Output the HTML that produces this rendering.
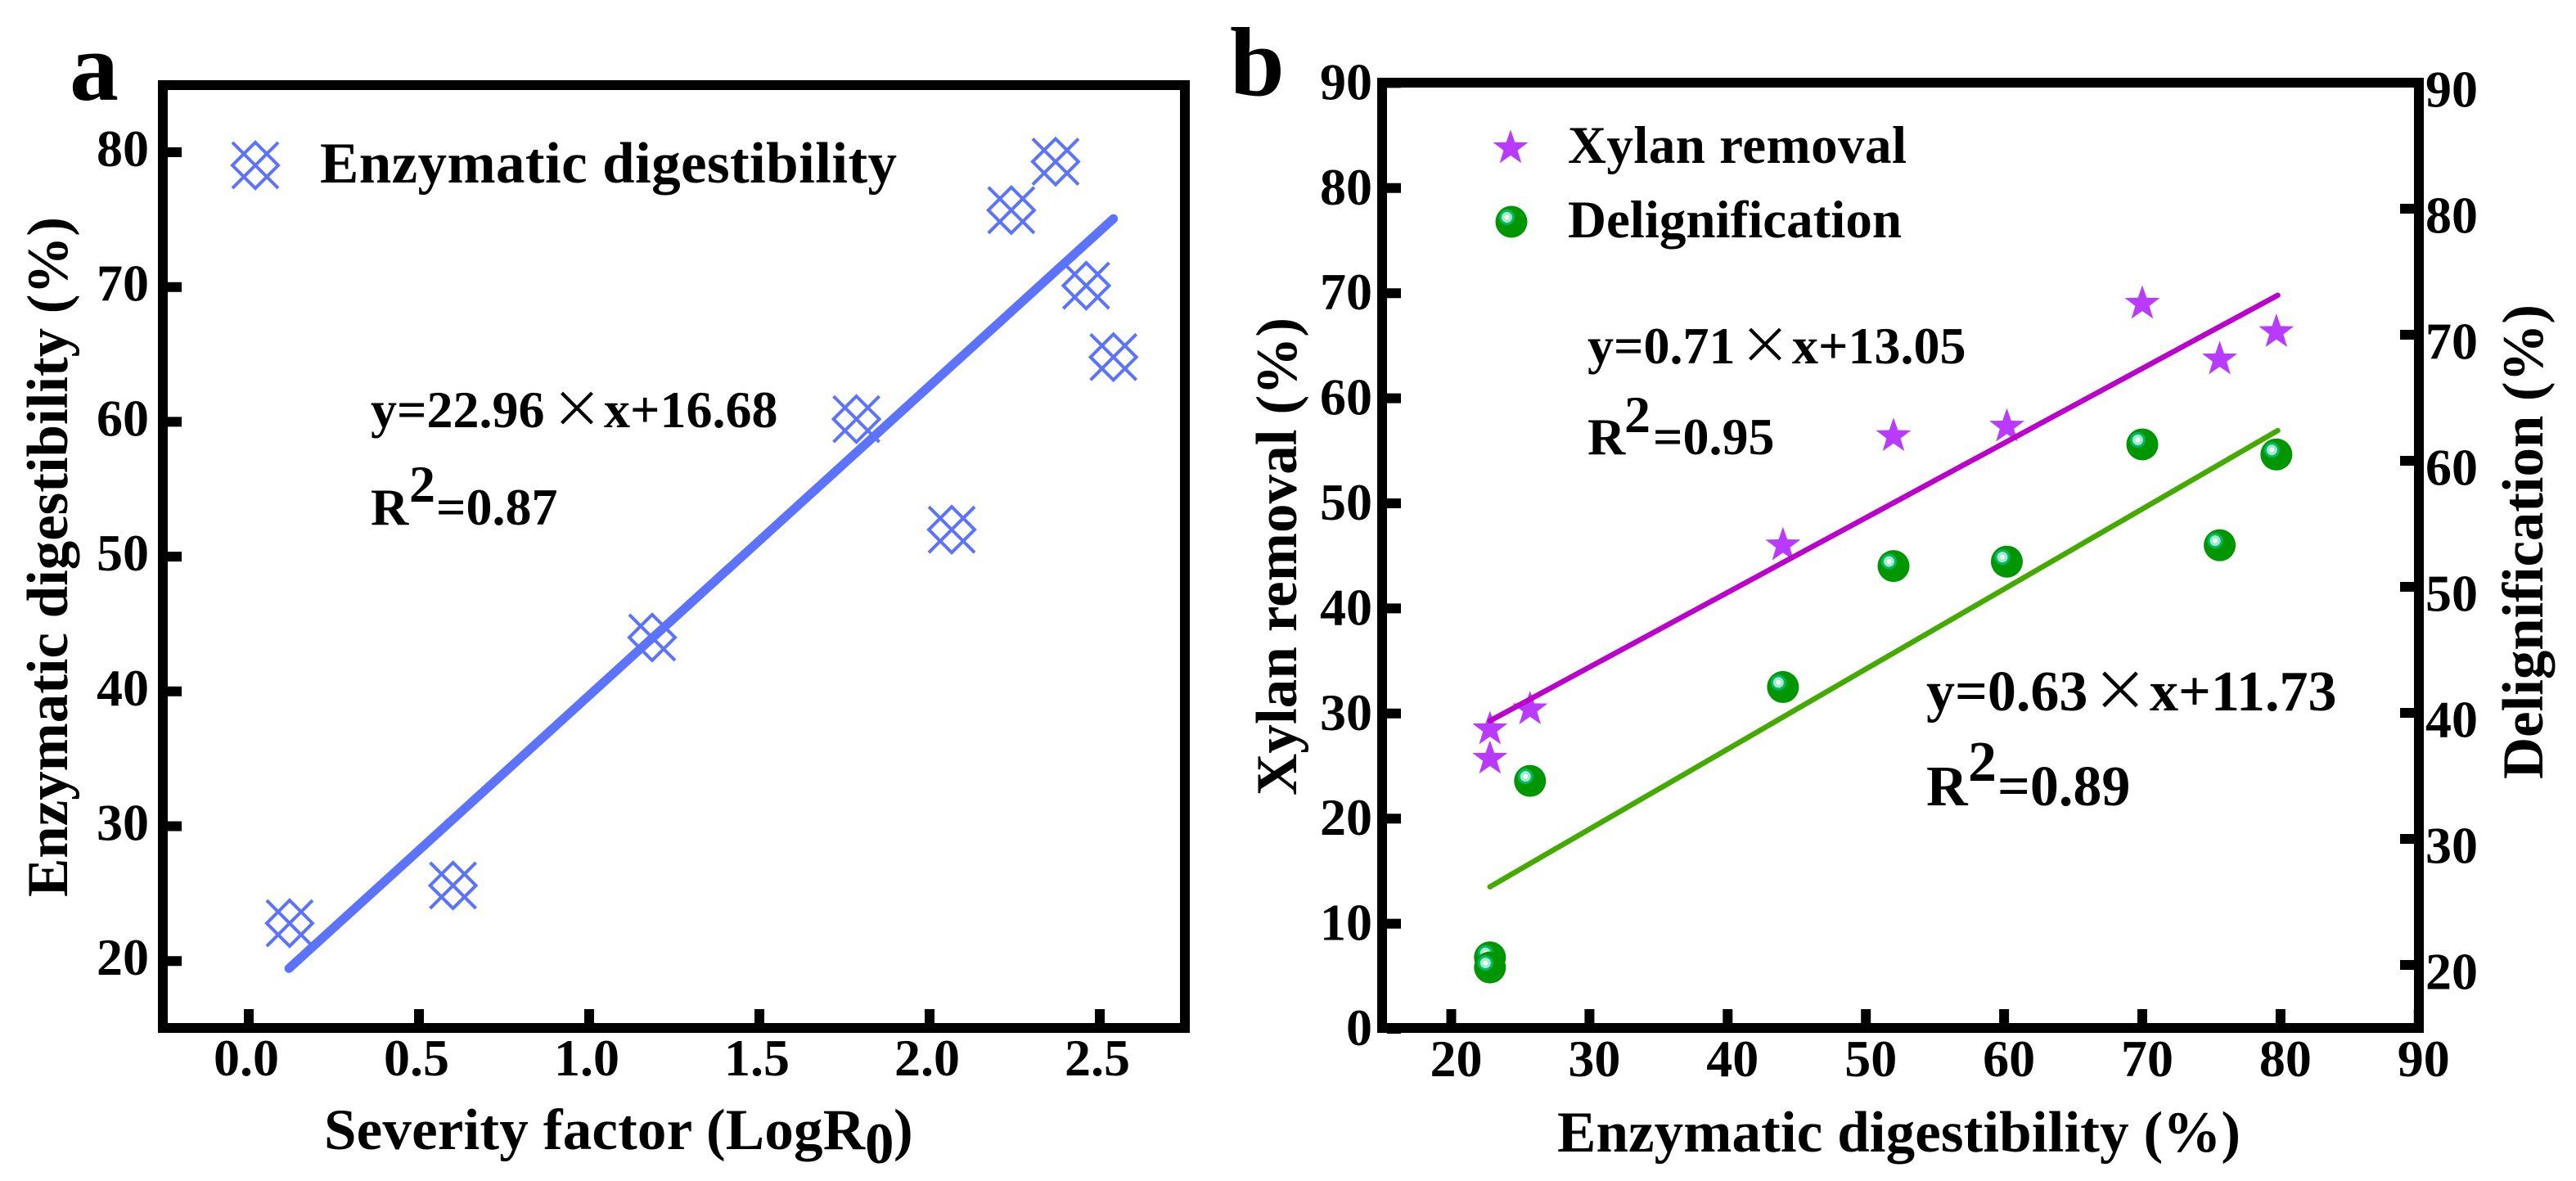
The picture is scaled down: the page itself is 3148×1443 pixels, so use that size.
<!DOCTYPE html>
<html lang="en">
<head>
<meta charset="utf-8">
<title>Enzymatic digestibility charts</title>
<style>
html,body{margin:0;padding:0;background:#fff;}
svg{display:block;}
text{font-family:"Liberation Serif","Noto Serif CJK SC",serif;font-weight:bold;fill:#000;}
.tick{font-size:64px;}
.title{font-size:71px;}
.legend-a{font-size:71px;}
.legend-b{font-size:65px;}
.eq{font-size:64px;}
.eq-large{font-size:70px;}
.times{font-family:"Noto Sans CJK SC","WenQuanYi Zen Hei",sans-serif;font-weight:normal;font-size:62px;}
.times-large{font-family:"Noto Sans CJK SC","WenQuanYi Zen Hei",sans-serif;font-weight:normal;font-size:68px;}
.panel{font-size:120px;}
</style>
</head>
<body>
<svg id="fig" xmlns="http://www.w3.org/2000/svg" width="3148" height="1443" viewBox="0 0 3148 1443">
  <rect width="3148" height="1443" fill="#fff"/>

  <text class="panel" x="85" y="122">a</text>
  <text class="panel" x="1503" y="116">b</text>

  <rect x="199" y="104" width="1249" height="1152" fill="none" stroke="#000" stroke-width="12"/>
  <rect x="1689" y="101" width="1267" height="1155" fill="none" stroke="#000" stroke-width="12"/>

  <g id="layer-a"></g>
  <g id="layer-b"></g>

  <!-- Panel a text -->
  <text class="title" x="396" y="1404" textLength="661" lengthAdjust="spacing">Severity factor (LogR</text>
  <text class="title" x="1057" y="1421">0</text>
  <text class="title" x="1092" y="1404">)</text>
  <text class="title" transform="translate(82 1096) rotate(-90)" textLength="831" lengthAdjust="spacing">Enzymatic digestibility (%)</text>
  <text class="legend-a" x="391" y="223" textLength="705" lengthAdjust="spacing">Enzymatic digestibility</text>

  <text class="eq" x="453" y="522">y=22.96</text>
  <text class="times" x="674" y="522">×</text>
  <text class="eq" x="738" y="522">x+16.68</text>
  <text class="eq" x="453" y="641">R</text>
  <text class="eq" x="500" y="613">2</text>
  <text class="eq" x="533" y="641">=0.87</text>

  <!-- Panel b text -->
  <text class="title" x="1903" y="1407" textLength="835" lengthAdjust="spacing">Enzymatic digestibility (%)</text>
  <text class="title" transform="translate(1584 972) rotate(-90)" textLength="584" lengthAdjust="spacing">Xylan removal (%)</text>
  <text class="title" transform="translate(3107 952) rotate(-90)" textLength="580" lengthAdjust="spacing">Delignification (%)</text>
  <text class="legend-b" x="1916" y="199" textLength="414" lengthAdjust="spacing">Xylan removal</text>
  <text class="legend-b" x="1916" y="290" textLength="408" lengthAdjust="spacing">Delignification</text>

  <text class="eq" x="1940" y="444">y=0.71</text>
  <text class="times" x="2126" y="444">×</text>
  <text class="eq" x="2190" y="444">x+13.05</text>
  <text class="eq" x="1940" y="555">R</text>
  <text class="eq" x="1985" y="528">2</text>
  <text class="eq" x="2020" y="555">=0.95</text>

  <text class="eq-large" x="2354" y="868">y=0.63</text>
  <text class="times-large" x="2557" y="868">×</text>
  <text class="eq-large" x="2627" y="868">x+11.73</text>
  <text class="eq-large" x="2354" y="984">R</text>
  <text class="eq-large" x="2405" y="954">2</text>
  <text class="eq-large" x="2441" y="984">=0.89</text>
</svg>

<script>
// Panel a data
const aTicksX = [0, 0.5, 1, 1.5, 2, 2.5];
const aTickLabelsX = ['0.0', '0.5', '1.0', '1.5', '2.0', '2.5'];
const aTicksY = [20, 30, 40, 50, 60, 70, 80];
const severity = [0.12, 0.6, 1.185, 1.785, 2.065, 2.24, 2.37, 2.46, 2.54];
const digestibility = [22.8, 25.6, 44, 60.2, 52, 75.7, 79.3, 70.1, 64.8];
const aFitX = [0.118, 2.54];
const aFitY = [19.45, 75.07];

// Panel b data
const bTicksX = [20, 30, 40, 50, 60, 70, 80, 90];
const bTicksLeft = [0, 10, 20, 30, 40, 50, 60, 70, 80, 90];
const bTicksRight = [20, 30, 40, 50, 60, 70, 80, 90];
const enzymatic = [22.8, 22.8, 25.7, 44, 52, 60.2, 70, 75.6, 79.7];
const xylanRemoval = [28.5, 25.7, 30.4, 46, 56.4, 57.3, 69, 63.7, 66.3];
const delignification = [20.6, 19.8, 34.6, 42.05, 51.65, 52, 61.3, 53.3, 60.5];
const xylanFitX = [22.8, 79.8];
const xylanFitY = [29.3, 69.8];
const delignFitX = [22.8, 79.8];
const delignFitY = [26.2, 62.4];

// Axis functions
function axX(v) { return 304 + v * 416; }
function ayY(v) { return 186 + (80 - v) * 16.47; }
function bxX(v) { return 1773.5 + (v - 20) * 16.89; }
function byL(v) { return 1257 - v * 12.84; }
function byR(v) { return 1179 - (v - 20) * 15.4; }

const SVGNS = 'http://www.w3.org/2000/svg';
const layerA = document.getElementById('layer-a');
const layerB = document.getElementById('layer-b');

function mk(parent, tag, attrs, txt) {
  const el = document.createElementNS(SVGNS, tag);
  for (const k in attrs) el.setAttribute(k, attrs[k]);
  if (txt !== undefined) el.textContent = txt;
  parent.appendChild(el);
  return el;
}

const meshPath = 'M-28 -28L28 28M28 -28L-28 28M0 -28L28 0L0 28L-28 0Z';
function starPath(R) {
  let d = '';
  for (let i = 0; i < 10; i++) {
    const r = i % 2 ? R * 0.40 : R;
    const t = -Math.PI / 2 + i * Math.PI / 5;
    d += (i ? 'L' : 'M') + (r * Math.cos(t)).toFixed(2) + ' ' + (r * Math.sin(t)).toFixed(2);
  }
  return d + 'Z';
}
function addMesh(parent, cx, cy, name) {
  const el = mk(parent, 'path', { d: meshPath, transform: 'translate(' + cx + ' ' + cy + ')', fill: 'none', stroke: '#5b73ff', 'stroke-width': 4 });
  
  
  return el;
}
function addStar(parent, cx, cy, name) {
  const el = mk(parent, 'path', { d: starPath(22.6), transform: 'translate(' + cx + ' ' + cy + ')', fill: '#b83bff' });
  
  
  return el;
}
function addSphere(parent, cx, cy, name) {
  const g = mk(parent, 'g', { transform: 'translate(' + cx + ' ' + cy + ')' });
  
  
  mk(g, 'circle', { r: 19.5, fill: '#009600' });
  mk(g, 'circle', { cx: -5.5, cy: -5.5, r: 9.5, fill: '#00b86a' });
  mk(g, 'circle', { cx: -5.5, cy: -5.5, r: 6.5, fill: '#a6e8c8' });
  mk(g, 'circle', { cx: -5.5, cy: -5.5, r: 3, fill: '#f2fff8' });
  return g;
}

// Panel a ticks
aTicksX.forEach(function (v, i) {
  const t = mk(layerA, 'line', { x1: axX(v), x2: axX(v), y1: 1250, y2: 1233, stroke: '#000', 'stroke-width': 12 });
  
  
  const l = mk(layerA, 'text', { class: 'tick', x: axX(v) - 3, y: 1314, 'text-anchor': 'middle' }, aTickLabelsX[i]);
  
  
});
aTicksY.forEach(function (v) {
  const t = mk(layerA, 'line', { x1: 205, x2: 222, y1: ayY(v), y2: ayY(v), stroke: '#000', 'stroke-width': 12 });
  
  
  const l = mk(layerA, 'text', { class: 'tick', x: 182, y: ayY(v) + 17, 'text-anchor': 'end' }, String(v));
  
  
});

// Panel a series
severity.forEach(function (v, i) {
  addMesh(layerA, axX(v), ayY(digestibility[i]), 'enzymatic-digestibility-point');
});
const fitA = mk(layerA, 'line', { x1: axX(aFitX[0]), y1: ayY(aFitY[0]), x2: axX(aFitX[1]), y2: ayY(aFitY[1]), stroke: '#5b73ff', 'stroke-width': 11, 'stroke-linecap': 'round' });


addMesh(layerA, 312, 202, 'legend-marker-enzymatic');

// Panel b ticks
bTicksX.forEach(function (v) {
  const t = mk(layerB, 'line', { x1: bxX(v), x2: bxX(v), y1: 1250, y2: 1233, stroke: '#000', 'stroke-width': 12 });
  
  
  const l = mk(layerB, 'text', { class: 'tick', x: bxX(v) + 6, y: 1315, 'text-anchor': 'middle' }, String(v));
  
  
});
bTicksLeft.forEach(function (v) {
  const t = mk(layerB, 'line', { x1: 1695, x2: 1712, y1: byL(v), y2: byL(v), stroke: '#000', 'stroke-width': 12 });
  
  
  const l = mk(layerB, 'text', { class: 'tick', x: 1677, y: byL(v) + 20, 'text-anchor': 'end' }, String(v));
  
  
});
bTicksRight.forEach(function (v) {
  const t = mk(layerB, 'line', { x1: 2933, x2: 2950, y1: byR(v), y2: byR(v), stroke: '#000', 'stroke-width': 12 });
  
  
  const l = mk(layerB, 'text', { class: 'tick', x: 2964, y: byR(v) + 29.5 }, String(v));
  
  
});

// Panel b series
enzymatic.forEach(function (v, i) {
  addStar(layerB, bxX(v), byL(xylanRemoval[i]), 'xylan-removal-point');
});
enzymatic.forEach(function (v, i) {
  addSphere(layerB, bxX(v), byR(delignification[i]), 'delignification-point');
});
const fitX = mk(layerB, 'line', { x1: bxX(xylanFitX[0]), y1: byL(xylanFitY[0]), x2: bxX(xylanFitX[1]), y2: byL(xylanFitY[1]), stroke: '#bb00cc', 'stroke-width': 6.5, 'stroke-linecap': 'round' });


const fitD = mk(layerB, 'line', { x1: bxX(delignFitX[0]), y1: byR(delignFitY[0]), x2: bxX(delignFitX[1]), y2: byR(delignFitY[1]), stroke: '#44aa00', 'stroke-width': 6.5, 'stroke-linecap': 'round' });


addStar(layerB, 1846, 181, 'legend-marker-xylan');
addSphere(layerB, 1847, 271, 'legend-marker-delignification');
</script>
</body>
</html>
